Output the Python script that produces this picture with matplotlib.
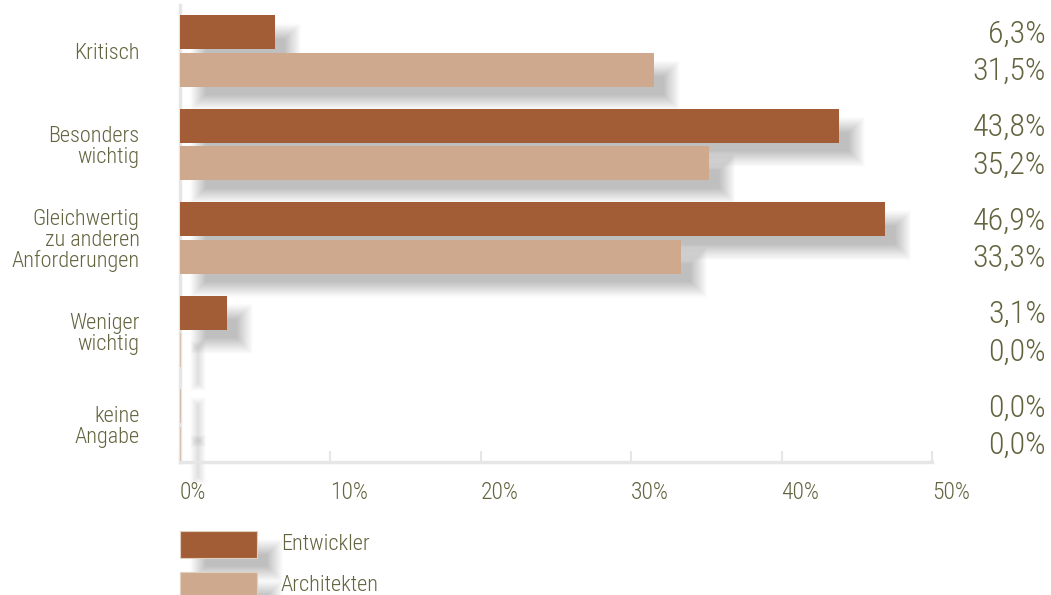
import numpy as np
import matplotlib
matplotlib.use("Agg")
from matplotlib import pyplot as plt
from matplotlib import font_manager, transforms
from matplotlib.patches import Rectangle

# Data
categories = ["Kritisch", "Besonders\nwichtig", "Gleichwertig\nzu anderen\nAnforderungen",
              "Weniger\nwichtig", "keine\nAngabe"]
entwickler = [6.3, 43.8, 46.9, 3.1, 0.0]
architekten = [31.5, 35.2, 33.3, 0.0, 0.0]
series_names = ["Entwickler", "Architekten"]
xticks = [0, 10, 20, 30, 40, 50]

DARK = "#a25d37"
LIGHT = "#cfa98e"
TEXT = "#63643f"
AXIS = "#e6e6e6"

# pick a condensed font if there is one
installed = {f.name for f in font_manager.fontManager.ttflist}
family = "DejaVu Sans"
for cand in ["Roboto Condensed", "Liberation Sans Narrow", "Open Sans Condensed", "Roboto"]:
    if cand in installed:
        family = cand
        break
plt.rcParams['font.family'] = [family, "DejaVu Sans"]
plt.rcParams['font.weight'] = "light"

W, H = 1051, 595
fig = plt.figure(figsize=(W/100, H/100), dpi=100)
ax = fig.add_axes([180/W, (H-462)/H, (932-180)/W, (462-5)/H])
ax.patch.set_visible(False)

y = np.arange(len(categories))
bh = 0.36
off = 0.2
ax.set_xlim(0, 50)
ax.set_ylim(4.396, -0.492)

# pixel -> data scales
px_x = 50.0 / (932-180)
px_y = (4.396 + 0.492) / (462-5)

N_SH = 32
PEAK = 0.21
DX, DY, BLUR = 18, 16, 8


def layers(blur):
    a = 1 - (1 - PEAK) ** (1.0 / N_SH)
    for i in range(N_SH):
        yield blur * (2.0 * i / (N_SH - 1) - 1), a


def shadow(x0, yc, w, h):
    for g, a in layers(BLUR):
        ww = w + 2 * g * px_x
        hh = h + 2 * g * px_y
        if ww <= 0 or hh <= 0:
            continue
        ax.add_patch(Rectangle((x0 + DX*px_x - g*px_x, yc - hh/2 + DY*px_y), ww, hh,
                               facecolor="black", edgecolor="none", alpha=a,
                               zorder=1, clip_on=False))


for i in range(len(categories)):
    shadow(0, y[i] - off, entwickler[i], bh)
    shadow(0, y[i] + off, architekten[i], bh)

ax.barh(y - off, entwickler, height=bh, color=DARK, zorder=3)
ax.barh(y + off, architekten, height=bh, color=LIGHT, zorder=3)
# zero values still show as a hairline
ax.barh(y - off, [0.06 if v == 0 else 0 for v in entwickler], height=bh, color=DARK, alpha=0.3, zorder=3)
ax.barh(y + off, [0.06 if v == 0 else 0 for v in architekten], height=bh, color=LIGHT, alpha=0.6, zorder=3)

# axes look
for s in ["top", "right"]:
    ax.spines[s].set_visible(False)
ax.spines["left"].set_color(AXIS)
ax.spines["bottom"].set_color(AXIS)
ax.spines["left"].set_linewidth(2.5)
ax.spines["bottom"].set_linewidth(2.5)
ax.set_xticks(xticks)
ax.set_xticklabels(["%d%%" % t for t in xticks], ha="left")
ax.tick_params(axis="x", direction="in", length=8, width=1.5, color=AXIS,
               labelcolor=TEXT, labelsize=17, pad=14)
ax.set_yticks(y)
ax.set_yticklabels(categories, fontsize=16, color=TEXT, linespacing=1.0)
ax.tick_params(axis="y", length=0, pad=29)

# value labels at the right edge
tr = transforms.blended_transform_factory(fig.transFigure, ax.transData)
for i in range(len(categories)):
    ax.text(1046/W, y[i]-off+0.02, ("%.1f%%" % entwickler[i]).replace(".", ","),
            transform=tr, ha="right", va="center", fontsize=23, color=TEXT)
    ax.text(1046/W, y[i]+off+0.02, ("%.1f%%" % architekten[i]).replace(".", ","),
            transform=tr, ha="right", va="center", fontsize=23, color=TEXT)

# legend drawn by hand with the same shadow
ftr = fig.transFigure
for k, (name, col) in enumerate(zip(series_names, [DARK, LIGHT])):
    top = 531 + 41*k
    for g, a in layers(BLUR):
        fig.patches.append(Rectangle(((180+DX-g)/W, (H-top-27-DY-g)/H), (77+2*g)/W, (27+2*g)/H,
                                     transform=ftr, facecolor="black", edgecolor="none",
                                     alpha=a, zorder=0))
    fig.patches.append(Rectangle((180/W, (H-top-27)/H), 77/W, 27/H, transform=ftr,
                                 facecolor=col, edgecolor="#e0d0c0", linewidth=0.8, zorder=1))
    fig.text(281/W, (H-top-13.5)/H, name, ha="left", va="center", fontsize=16, color=TEXT)

fig.savefig("out.png", dpi=100)
